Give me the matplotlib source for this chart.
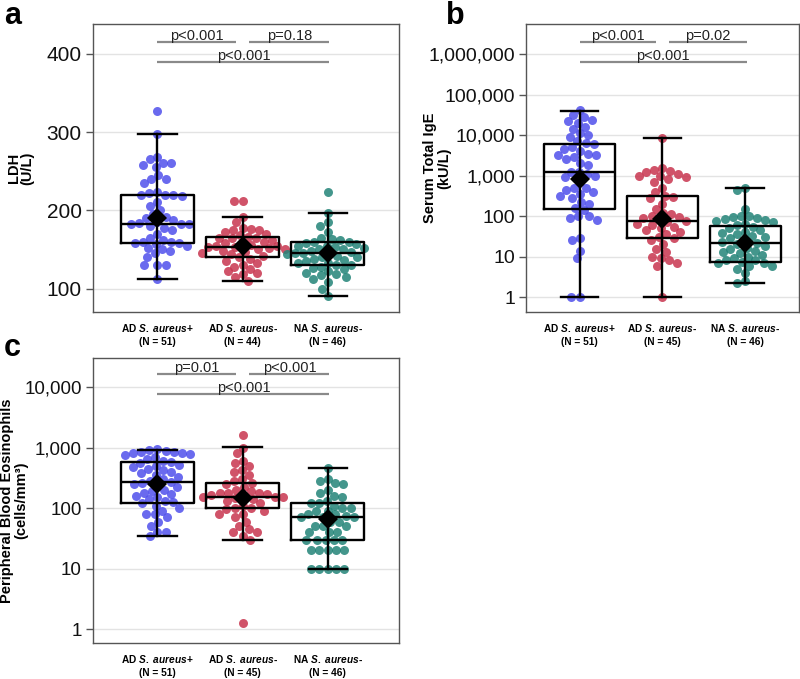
import numpy as np
import matplotlib
matplotlib.use("Agg")
import matplotlib.pyplot as plt
from matplotlib.ticker import FuncFormatter, FixedLocator

plt.rcParams['font.family'] = ['Liberation Sans', 'DejaVu Sans']
plt.rcParams['mathtext.fontset'] = 'custom'
plt.rcParams['mathtext.it'] = 'Liberation Sans:bold:italic'
plt.rcParams['mathtext.rm'] = 'Liberation Sans:bold'

# ---------------- data ----------------
groups = ["AD S. aureus+", "AD S. aureus-", "NA S. aureus-"]
colors = ["#5050EC", "#C8354F", "#238478"]

# Panel a: LDH (U/L)
ldh_adp = [327, 297, 268, 265, 260, 260, 258, 255, 245, 240, 240, 235, 224, 222, 220, 220, 220,
           218, 210, 205, 200, 195, 192, 190, 188, 185, 184, 183, 182, 182, 180, 178, 175, 170,
           165, 162, 160, 160, 158, 158, 157, 155, 152, 150, 148, 145, 140, 130, 130, 130, 112]
ldh_adn = [212, 212, 191, 185, 178, 176, 175, 175, 172, 170, 168, 166, 165, 165, 164, 162, 160,
           158, 157, 156, 155, 154, 153, 153, 152, 150, 150, 148, 147, 145, 144, 142, 140, 138,
           135, 132, 130, 128, 125, 122, 120, 118, 115, 110]
ldh_na = [223, 196, 185, 180, 172, 165, 163, 162, 160, 160, 158, 157, 155, 155, 153, 152, 150,
          150, 148, 147, 146, 145, 145, 144, 142, 140, 140, 138, 136, 135, 133, 132, 130, 130,
          128, 126, 125, 122, 120, 118, 117, 115, 112, 108, 100, 90]
ldh_q1 = [158, 140, 130]
ldh_med = [182, 153, 145]
ldh_q3 = [219, 166, 159]
ldh_lo = [112, 110, 90]
ldh_hi = [297, 191, 196]
ldh_mean = [190, 155, 145]
ldh_n = [51, 44, 46]

# Panel b: Serum total IgE (kU/L)
ige_adp = [42000, 32000, 28000, 24000, 22000, 20000, 16000, 14000, 11000, 10000, 9000, 7000,
           6300, 6000, 5000, 4500, 4000, 3500, 3200, 3200, 2800, 2500, 2000, 1800, 1250, 1200,
           1100, 1000, 900, 700, 500, 500, 450, 400, 350, 320, 280, 220, 200, 160, 140, 100, 100,
           90, 80, 28, 25, 14, 9, 1, 1]
ige_adn = [8500, 1500, 1400, 1300, 1200, 1100, 1000, 950, 900, 800, 700, 500, 400, 320, 300,
           280, 200, 150, 120, 110, 100, 95, 90, 80, 75, 70, 65, 60, 55, 50, 45, 40, 35, 30, 28,
           25, 20, 15, 13, 10, 9, 8, 7, 6, 1]
ige_na = [480, 450, 150, 100, 100, 95, 90, 85, 80, 75, 70, 65, 60, 55, 50, 45, 40, 38, 35, 32,
          30, 28, 25, 23, 22, 20, 18, 16, 15, 14, 13, 12, 11, 10, 9, 8, 8, 7.5, 7, 7, 6, 6, 5, 4,
          2.5, 2.2]
ige_q1 = [150, 28, 7.5]
ige_med = [1200, 75, 22]
ige_q3 = [6000, 310, 57]
ige_lo = [1, 1, 2.2]
ige_hi = [40000, 8500, 480]
ige_mean = [820, 85, 22]
ige_n = [51, 45, 46]

# Panel c: Peripheral blood eosinophils (cells/mm3)
eos_adp = [950, 900, 880, 860, 850, 820, 800, 780, 760, 700, 650, 600, 580, 560, 520, 500, 480,
           450, 420, 400, 380, 350, 330, 300, 280, 270, 260, 250, 240, 220, 200, 190, 180, 170,
           160, 150, 140, 130, 125, 120, 110, 100, 90, 80, 80, 70, 60, 50, 40, 40, 35]
eos_adn = [1600, 1000, 800, 600, 550, 500, 420, 400, 350, 300, 280, 260, 250, 220, 200, 190, 180,
           180, 175, 170, 165, 160, 155, 150, 150, 145, 140, 130, 120, 110, 100, 100, 95, 90, 80,
           80, 70, 60, 50, 45, 40, 40, 35, 30, 1.25]
eos_na = [460, 300, 280, 260, 250, 200, 180, 160, 150, 130, 120, 120, 110, 100, 100, 90, 90, 80,
          80, 75, 70, 70, 70, 60, 60, 50, 50, 50, 40, 40, 40, 30, 30, 30, 30, 30, 20, 20, 20, 20,
          20, 10, 10, 10, 10, 10]
eos_q1 = [120, 100, 30]
eos_med = [270, 150, 70]
eos_q3 = [570, 260, 120]
eos_lo = [35, 30, 10]
eos_hi = [920, 1030, 460]
eos_mean = [250, 145, 65]
eos_n = [51, 45, 46]

pvals_a = ["p<0.001", "p=0.18", "p<0.001"]
pvals_b = ["p<0.001", "p=0.02", "p<0.001"]
pvals_c = ["p=0.01", "p<0.001", "p<0.001"]

# ---------------- helpers ----------------
fig = plt.figure(figsize=(8.0, 6.79), dpi=100)


def swarm_offsets(ax, xc, values, diam_px):
    """Compute beeswarm x positions (data units) in display space."""
    vals = np.asarray(values, float)
    pts = ax.transData.transform(np.column_stack([np.full(len(vals), xc), vals]))
    ys = pts[:, 1]
    x0 = pts[0, 0]
    order = np.argsort(-ys)
    placed = []
    xs = np.zeros(len(vals))
    for i in order:
        y = ys[i]
        cands = [0.0]
        near = [(px, py) for px, py in placed if abs(py - y) < diam_px]
        for px, py in near:
            dx = np.sqrt(max(diam_px ** 2 - (py - y) ** 2, 0))
            cands += [px + dx, px - dx]
        cands = sorted(cands, key=lambda c: (abs(c), c))
        for c in cands:
            ok = all((c - px) ** 2 + (y - py) ** 2 >= diam_px ** 2 - 1e-6 for px, py in near)
            if ok:
                xs[i] = c
                placed.append((c, y))
                break
    disp = np.column_stack([x0 + xs, ys])
    return ax.transData.inverted().transform(disp)[:, 0]


def comma_fmt(v, pos):
    return "{:,}".format(int(round(v)))


def make_panel(rect, data, q1, med, q3, lo, hi, mean, ns, log, ylim, yticks, ylabel,
               xlim, pvals, pys, letter, letter_pos, tick_fs, label_x):
    ax = fig.add_axes(rect)
    if log:
        ax.set_yscale('log')
    ax.set_ylim(*ylim)
    ax.set_xlim(*xlim)
    ax.yaxis.set_major_locator(FixedLocator(yticks))
    ax.yaxis.set_minor_locator(FixedLocator([]))
    ax.yaxis.set_major_formatter(FuncFormatter(comma_fmt))
    ax.grid(axis='y', color='#e3e3e3', lw=1.0, zorder=0)
    ax.set_axisbelow(True)
    for s in ax.spines.values():
        s.set_color('#555555')
        s.set_linewidth(1.0)
    ax.tick_params(axis='y', labelsize=tick_fs, length=5, width=1.0, color='#555555',
                   labelcolor='#111111', pad=3)
    ax.tick_params(axis='x', length=0, pad=7)
    pos = [1, 2, 3]
    ax.set_xticks(pos)
    labels = [r"AD $\it{S.\ aureus}$+" + "\n(N = %d)" % ns[0],
              r"AD $\it{S.\ aureus}$-" + "\n(N = %d)" % ns[1],
              r"NA $\it{S.\ aureus}$-" + "\n(N = %d)" % ns[2]]
    ax.set_xticklabels(labels, fontsize=7.3, fontweight='bold', linespacing=1.45)
    ax.set_ylabel(ylabel, fontsize=10.5, fontweight='bold', linespacing=1.0)
    ax.yaxis.set_label_coords(label_x, 0.5)

    for k in range(3):
        xs = swarm_offsets(ax, pos[k], data[k], 8.3)
        ax.scatter(xs, data[k], s=42, color=colors[k], alpha=0.85, linewidths=0, zorder=2)

    stats = [dict(med=med[k], q1=q1[k], q3=q3[k], whislo=lo[k], whishi=hi[k], fliers=[])
             for k in range(3)]
    ax.bxp(stats, positions=pos, widths=0.86, capwidths=0.45, showfliers=False,
           patch_artist=False, manage_ticks=False,
           boxprops=dict(color='black', lw=1.7),
           medianprops=dict(color='black', lw=1.7),
           whiskerprops=dict(color='black', lw=1.7),
           capprops=dict(color='black', lw=1.7), zorder=3)
    ax.vlines(pos, q1, q3, color='black', lw=1.7, zorder=3)
    ax.plot(pos, mean, 'D', color='black', ms=10.5, zorder=4, markeredgewidth=0)

    # significance bars
    trans = ax.get_xaxis_transform()
    bars = [(1.0, 1.92, pys[0]), (2.08, 3.02, pys[0]), (1.0, 3.02, pys[1])]
    for (xa, xb, yy), txt in zip(bars, pvals):
        ax.plot([xa, xb], [yy, yy], color='#8a8a8a', lw=1.6, transform=trans,
                clip_on=False, zorder=5, solid_capstyle='butt')
        ax.text((xa + xb) / 2, yy - 0.002, txt, transform=trans, ha='center', va='bottom',
                fontsize=10.5, color='#222222', zorder=6)
    fig.text(letter_pos[0], letter_pos[1], letter, fontsize=22, fontweight='bold',
             ha='left', va='top')
    return ax


make_panel([0.116, 0.5405, 0.383, 0.424], [ldh_adp, ldh_adn, ldh_na],
           ldh_q1, ldh_med, ldh_q3, ldh_lo, ldh_hi, ldh_mean, ldh_n, False,
           (70, 438), [100, 200, 300, 400], "LDH\n(U/L)", (0.24, 3.84),
           pvals_a, (0.9375, 0.868), "a", (0.005, 0.998), 15, -0.19)

make_panel([0.6575, 0.5405, 0.341, 0.424], [ige_adp, ige_adn, ige_na],
           ige_q1, ige_med, ige_q3, ige_lo, ige_hi, ige_mean, ige_n, True,
           (10 ** -0.37, 10 ** 6.74), [1, 10, 100, 1000, 10000, 100000, 1000000],
           "Serum Total IgE\n(kU/L)", (0.35, 3.65),
           pvals_b, (0.9375, 0.868), "b", (0.557, 0.998), 14, -0.275)

make_panel([0.116, 0.053, 0.383, 0.4197], [eos_adp, eos_adn, eos_na],
           eos_q1, eos_med, eos_q3, eos_lo, eos_hi, eos_mean, eos_n, True,
           (10 ** -0.23, 10 ** 4.48), [1, 10, 100, 1000, 10000],
           "Peripheral Blood Eosinophils\n(cells/mm³)", (0.24, 3.84),
           pvals_c, (0.944, 0.874), "c", (0.005, 0.51), 13.5, -0.21)

fig.savefig("out.png", dpi=100)
